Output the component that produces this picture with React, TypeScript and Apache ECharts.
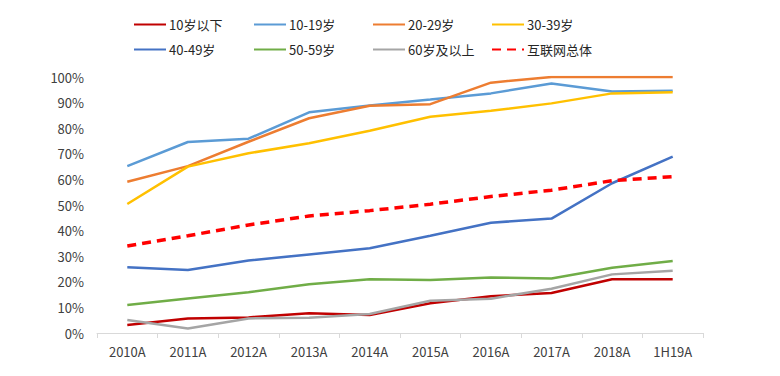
import React, { useEffect, useRef } from "react";
import * as echarts from "echarts";

const categories = ["2010A", "2011A", "2012A", "2013A", "2014A", "2015A", "2016A", "2017A", "2018A", "1H19A"];
const seriesNames = ["10岁以下", "10-19岁", "20-29岁", "30-39岁", "40-49岁", "50-59岁", "60岁及以上", "互联网总体"];
const under10 = [3.1, 5.7, 6.1, 7.7, 7.0, 11.6, 14.4, 15.6, 21.0, 21.0];
const age10to19 = [65.2, 74.6, 75.9, 86.2, 88.9, 91.2, 93.6, 97.5, 94.3, 94.6];
const age20to29 = [59.1, 65.2, 74.7, 83.9, 88.8, 89.4, 97.8, 100, 100, 100];
const age30to39 = [50.4, 65.0, 70.2, 74.1, 79.0, 84.5, 86.8, 89.7, 93.6, 94.0];
const age40to49 = [25.7, 24.6, 28.3, 30.7, 33.1, 38.0, 43.1, 44.7, 58.5, 68.9];
const age50to59 = [10.9, 13.5, 15.9, 19.0, 21.0, 20.7, 21.7, 21.3, 25.5, 28.1];
const age60plus = [5.1, 1.8, 5.7, 6.0, 7.4, 12.6, 13.4, 17.3, 22.9, 24.3];
const total = [34.0, 38.0, 42.2, 45.7, 47.8, 50.3, 53.3, 55.8, 59.5, 61.1];
const yTicks = [0, 10, 20, 30, 40, 50, 60, 70, 80, 90, 100];

const colors = ["#C00000", "#5B9BD5", "#ED7D31", "#FFC000", "#4472C4", "#70AD47", "#A5A5A5", "#FF0000"];
const dataSets = [under10, age10to19, age20to29, age30to39, age40to49, age50to59, age60plus, total];

const FONT = "'Noto Sans CJK SC', 'Noto Sans', sans-serif";

export default function App() {
  const ref = useRef<HTMLDivElement>(null);
  useEffect(() => {
    if (!ref.current) return;
    const chart = echarts.init(ref.current, null, { renderer: "svg" });
    const legendLefts = [100, 220, 339, 458];
    const legends = seriesNames.map((name, i) => ({
      data: [name],
      left: legendLefts[i % 4] + 33,
      top: i < 4 ? 18 : 43,
      itemWidth: 32,
      itemHeight: 14,
      itemGap: 4,
      padding: 0,
      itemStyle: { opacity: 0 },
      textStyle: { fontFamily: FONT, fontSize: 13, color: "#262626", padding: [0, 0, 0, -2] },
    }));
    chart.setOption({
      animation: false,
      color: colors,
      legend: legends,
      grid: { left: 97, right: 77, top: 77, bottom: 43, containLabel: false },
      xAxis: {
        type: "category",
        data: categories,
        boundaryGap: true,
        axisLine: { lineStyle: { color: "#D9D9D9", width: 1 } },
        axisTick: { show: true, alignWithLabel: false, length: 5, lineStyle: { color: "#D9D9D9" } },
        axisLabel: { fontFamily: FONT, fontSize: 13, color: "#404040", margin: 12 },
      },
      yAxis: {
        type: "value",
        min: yTicks[0],
        max: yTicks[yTicks.length - 1],
        interval: 10,
        axisLine: { show: false },
        axisTick: { show: false },
        splitLine: { show: false },
        axisLabel: { fontFamily: FONT, fontSize: 13, color: "#404040", margin: 13, formatter: "{value}%" },
      },
      series: seriesNames.map((name, i) => ({
        name,
        type: "line",
        data: dataSets[i],
        symbol: "none",
        smooth: false,
        lineStyle: i === 7
          ? { color: colors[i], width: 3.5, type: [9, 6] }
          : { color: colors[i], width: 2.5 },
        itemStyle: { color: colors[i] },
      })),
    });
    return () => chart.dispose();
  }, []);
  return <div ref={ref} style={{ position: "fixed", left: 0, top: 0, width: 780, height: 376, background: "#fff" }} />;
}
